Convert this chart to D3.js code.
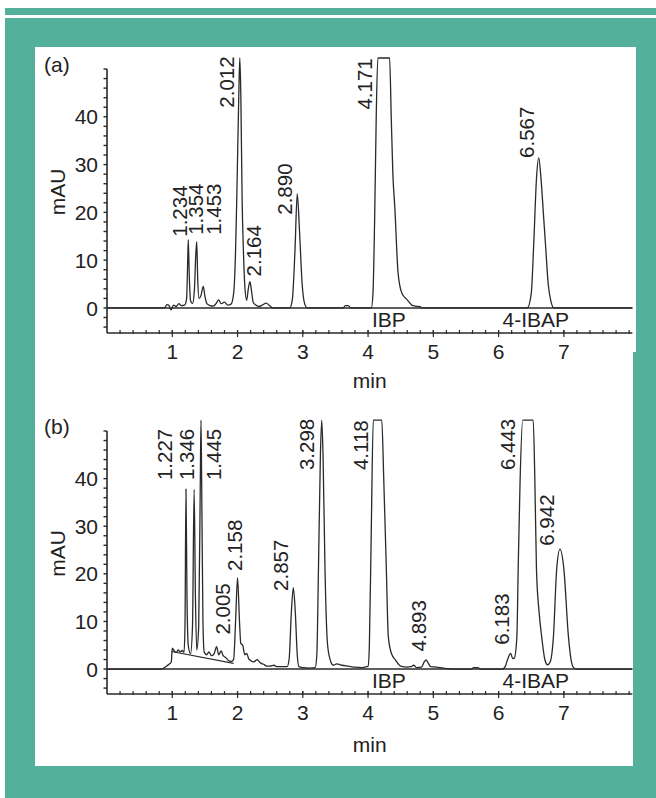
<!DOCTYPE html>
<html>
<head>
<meta charset="utf-8">
<script src="https://cdn.jsdelivr.net/npm/d3@7"></script>
<style>
  html, body { margin: 0; padding: 0; background: #ffffff; }
  svg { display: block; }
  text { font-family: "Liberation Sans", Arial, Helvetica, sans-serif; fill: #222; }
</style>
</head>
<body>
<svg id="chart" width="656" height="798"></svg>
<script>
// ---------------- DATA ----------------
const timeTicks = [1, 2, 3, 4, 5, 6, 7];
const mAUTicks = [0, 10, 20, 30, 40];
const panelTags = ["(a)", "(b)"];
const compoundNames = ["IBP", "4-IBAP"];
const compoundTimes = [4.32, 6.57];

// chromatogram (a): [time (min), absorbance (mAU)]
const chromA = [
  [0,0],[0.88,0],[0.92,0.7],[0.95,0.5],[0.98,-0.4],[1.02,0.6],[1.06,0.3],[1.1,0.9],[1.14,0.5],[1.19,0.6],
  [1.22,2],[1.235,9],[1.245,14.3],[1.26,7],[1.28,1.5],[1.31,0.9],
  [1.34,4],[1.36,11],[1.375,13.9],[1.39,6],[1.41,2],
  [1.44,2.6],[1.475,4.5],[1.5,2.5],[1.53,0.9],[1.58,0.5],[1.63,0.4],[1.67,0.9],[1.71,1.7],[1.75,0.9],[1.8,1.2],[1.85,0.6],[1.9,0.8],
  [1.94,3],[1.97,12],[1.99,24],[2.02,45],[2.035,52.3],[2.05,45],[2.07,23],[2.09,12],[2.11,5],[2.14,1.6],
  [2.165,4],[2.19,5.5],[2.215,3.5],[2.24,1.2],[2.28,0.6],[2.33,0.3],[2.38,0.6],[2.44,1.0],[2.49,0.5],[2.54,0],
  [2.8,0],[2.84,1.8],[2.88,12],[2.915,23.9],[2.95,16],[2.99,5],[3.03,0.8],[3.07,0],
  [3.62,0],[3.65,0.5],[3.7,0.5],[3.73,0],
  [4.05,0],[4.075,3],[4.1,18],[4.125,40],[4.15,52.3],[4.33,52.3],[4.355,40],[4.38,28],[4.41,21],[4.46,7.3],[4.52,3],[4.6,1.7],[4.67,0.6],[4.72,0.4],[4.8,0.3],[4.82,0],
  [6.44,0],[6.5,3],[6.54,14],[6.58,27],[6.615,31.4],[6.65,27],[6.69,19],[6.72,13],[6.76,5],[6.8,1.5],[6.85,0],
  [8.05,0]
];

// chromatogram (b)
const chromB = [
  [0,0],[0.84,0],[0.9,0.5],[0.95,1.0],[0.985,1.5],[1.0,4.4],[1.03,3.8],[1.06,3.5],[1.09,4.0],[1.12,3.6],[1.15,3.9],[1.18,3.5],
  [1.195,9],[1.21,37.8],[1.225,16],[1.245,5],[1.28,3.2],
  [1.31,9],[1.335,37.7],[1.355,15],[1.375,4],
  [1.405,9],[1.43,40],[1.44,52.3],[1.45,40],[1.47,10],[1.49,3.5],[1.53,3.0],[1.56,3.6],[1.6,2.8],[1.64,3.2],[1.68,4.7],[1.71,3.0],[1.75,3.8],[1.78,2.8],[1.82,2.4],[1.86,1.8],[1.9,1.6],[1.94,2],
  [1.97,10],[2.0,19.2],[2.03,10],[2.05,5.4],[2.08,5],[2.11,3.0],[2.14,3.3],[2.17,2.2],[2.2,1.8],[2.25,1.5],[2.3,2.0],[2.35,1.3],[2.4,1.0],[2.45,0.6],[2.5,0.6],[2.56,0.8],[2.6,0.5],[2.7,0.5],[2.76,0.5],
  [2.79,2],[2.825,12],[2.855,17.1],[2.885,12],[2.915,3],[2.94,0.5],[3.0,0.3],[3.1,0.2],[3.19,0.3],
  [3.215,3],[3.24,21],[3.27,45],[3.29,52.3],[3.31,45],[3.34,21],[3.38,5],[3.43,1.5],[3.47,0.8],[3.52,1.1],[3.6,0.8],[3.7,0.6],[3.8,0.4],[3.9,0.3],[3.98,0.5],
  [4.0,0.6],[4.02,5],[4.05,30],[4.08,52.3],[4.21,52.3],[4.24,40],[4.28,21],[4.31,6.8],[4.36,3.2],[4.42,1.9],[4.5,0.6],[4.6,0.4],[4.66,0.5],[4.7,0.8],[4.74,0.3],
  [4.82,0.4],[4.86,1.5],[4.89,1.9],[4.92,1.3],[4.96,0.5],[5.05,0.4],[5.15,0.2],[5.3,0],[5.58,0],[5.62,0.3],[5.68,0.3],[5.72,0],[6.06,0],
  [6.1,0.5],[6.15,2.5],[6.185,3.3],[6.215,2.2],[6.24,2.3],[6.28,6.8],[6.3,21],[6.33,40],[6.37,52.3],[6.53,52.3],[6.555,40],[6.58,21],[6.62,12],[6.66,6.8],[6.71,1.9],[6.75,0.9],[6.79,1.5],
  [6.84,6.8],[6.89,21],[6.94,25.2],[7.0,21],[7.07,6.8],[7.11,2],[7.15,0.3],[7.2,0],
  [8.05,0]
];

// integration baseline drawn under the early peaks of (b)
const baselineB = [[0.99,3.7],[1.94,1.2]];

// peak labels: text, time and mAU level at which the label starts
const peakLabelsA = [
  {text:"1.234", t:1.108, v:14.9},
  {text:"1.354", t:1.359, v:15.3},
  {text:"1.453", t:1.644, v:15.3},
  {text:"2.012", t:1.834, v:41.9},
  {text:"2.164", t:2.252, v:6.6},
  {text:"2.890", t:2.727, v:19.5},
  {text:"4.171", t:3.953, v:41.5},
  {text:"6.567", t:6.43,  v:31.4}
];
const peakLabelsB = [
  {text:"1.227", t:0.889, v:39.7},
  {text:"1.346", t:1.23,  v:39.7},
  {text:"1.445", t:1.629, v:39.7},
  {text:"2.005", t:1.782, v:7.25},
  {text:"2.158", t:1.961, v:20.6},
  {text:"2.857", t:2.661, v:16.4},
  {text:"3.298", t:3.06,  v:41.8},
  {text:"4.118", t:3.891, v:41.8},
  {text:"4.893", t:4.77,  v:3.7},
  {text:"6.183", t:6.047, v:5.1},
  {text:"6.443", t:6.148, v:41.8},
  {text:"6.942", t:6.746, v:25.9}
];

const xDomain = [0, 8.05];
const yDomain = [-5.24, 50];
const saturation = 52.3;

// ---------------- DRAW ----------------
const svg = d3.select("#chart");
const teal = "#52b09b";
const ink = "#2a2a2a";

// frame
svg.append("rect").attr("x", 5).attr("y", 8).attr("width", 651).attr("height", 7).attr("fill", teal);
svg.append("rect").attr("x", 5).attr("y", 18).attr("width", 651).attr("height", 780).attr("fill", teal);
svg.append("rect").attr("x", 35).attr("y", 47).attr("width", 601).attr("height", 305).attr("fill", "#fff");
svg.append("rect").attr("x", 35).attr("y", 351).attr("width", 598).attr("height", 415).attr("fill", "#fff");

const x = d3.scaleLinear().domain(xDomain).range([107, 632.4]);

function panel(top, bottom, data, labels, tag, extraBase, minY) {
  const y = d3.scaleLinear().domain(yDomain).range([bottom, top]);
  const g = svg.append("g");

  // y axis (ticks every 2 mAU, labels every 10)
  const yMinor = d3.range(-4, 50.1, 2);
  g.append("line").attr("x1", x(0)).attr("x2", x(0)).attr("y1", y(50)).attr("y2", y(yDomain[0]))
    .attr("stroke", ink).attr("stroke-width", 1.6);
  g.selectAll(".yt").data(yMinor).enter().append("line")
    .attr("x1", x(0) - 3.5).attr("x2", x(0)).attr("y1", d => y(d)).attr("y2", d => y(d))
    .attr("stroke", ink).attr("stroke-width", 1.4);
  g.selectAll(".yl").data(mAUTicks).enter().append("text")
    .attr("x", 98).attr("y", d => y(d)).attr("dy", "0.36em")
    .attr("text-anchor", "end").attr("font-size", 21).text(d => d);

  // x axis
  const xMinor = d3.range(0.2, 8.01, 0.2);
  g.append("line").attr("x1", x(0)).attr("x2", x(xDomain[1])).attr("y1", y(yDomain[0])).attr("y2", y(yDomain[0]))
    .attr("stroke", ink).attr("stroke-width", 1.6);
  g.selectAll(".xt").data(xMinor).enter().append("line")
    .attr("x1", d => x(d)).attr("x2", d => x(d))
    .attr("y1", y(yDomain[0]) - 3).attr("y2", y(yDomain[0]) + 1)
    .attr("stroke", ink).attr("stroke-width", 1.2);
  g.selectAll(".xM").data(timeTicks).enter().append("line")
    .attr("x1", d => x(d)).attr("x2", d => x(d))
    .attr("y1", y(yDomain[0]) - 3).attr("y2", y(yDomain[0]) + 4)
    .attr("stroke", ink).attr("stroke-width", 1.2);
  g.selectAll(".xl").data(timeTicks).enter().append("text")
    .attr("x", d => x(d)).attr("y", y(yDomain[0]) + 26)
    .attr("text-anchor", "middle").attr("font-size", 21).text(d => d);

  // axis titles
  g.append("text").attr("x", (x(0) + x(xDomain[1])) / 2).attr("y", minY)
    .attr("text-anchor", "middle").attr("font-size", 21).text("min");
  g.append("text").attr("transform", `translate(65,${(top + bottom) / 2 - 9}) rotate(-90)`)
    .attr("text-anchor", "middle").attr("font-size", 21).text("mAU");
  g.append("text").attr("x", 44).attr("y", top + 3).attr("font-size", 21).text(tag);

  // zero line
  g.append("line").attr("x1", x(0)).attr("x2", x(xDomain[1])).attr("y1", y(0)).attr("y2", y(0))
    .attr("stroke", ink).attr("stroke-width", 1.4);

  // integration baseline
  if (extraBase) {
    g.append("path").attr("d", d3.line().x(d => x(d[0])).y(d => y(d[1]))(extraBase))
      .attr("fill", "none").attr("stroke", ink).attr("stroke-width", 1.1);
  }

  // signal
  const line = d3.line().x(d => x(d[0])).y(d => y(Math.min(d[1], saturation))).curve(d3.curveMonotoneX);
  g.append("path").attr("d", line(data)).attr("fill", "none")
    .attr("stroke", ink).attr("stroke-width", 1.3).attr("stroke-linejoin", "round");

  // peak labels
  g.selectAll(".pl").data(labels).enter().append("text")
    .attr("transform", d => `translate(${x(d.t)},${y(d.v)}) rotate(-90)`)
    .attr("dy", "0.35em").attr("font-size", 20.5).text(d => d.text);

  // compound labels
  g.selectAll(".cl").data(compoundNames).enter().append("text")
    .attr("x", (d, i) => x(compoundTimes[i])).attr("y", y(-2.4)).attr("dy", "0.36em")
    .attr("text-anchor", "middle").attr("font-size", 21).text(d => d);
}

panel(69, 333, chromA, peakLabelsA, panelTags[0], null, 388);
panel(431, 694, chromB, peakLabelsB, panelTags[1], baselineB, 751.5);
</script>
</body>
</html>
